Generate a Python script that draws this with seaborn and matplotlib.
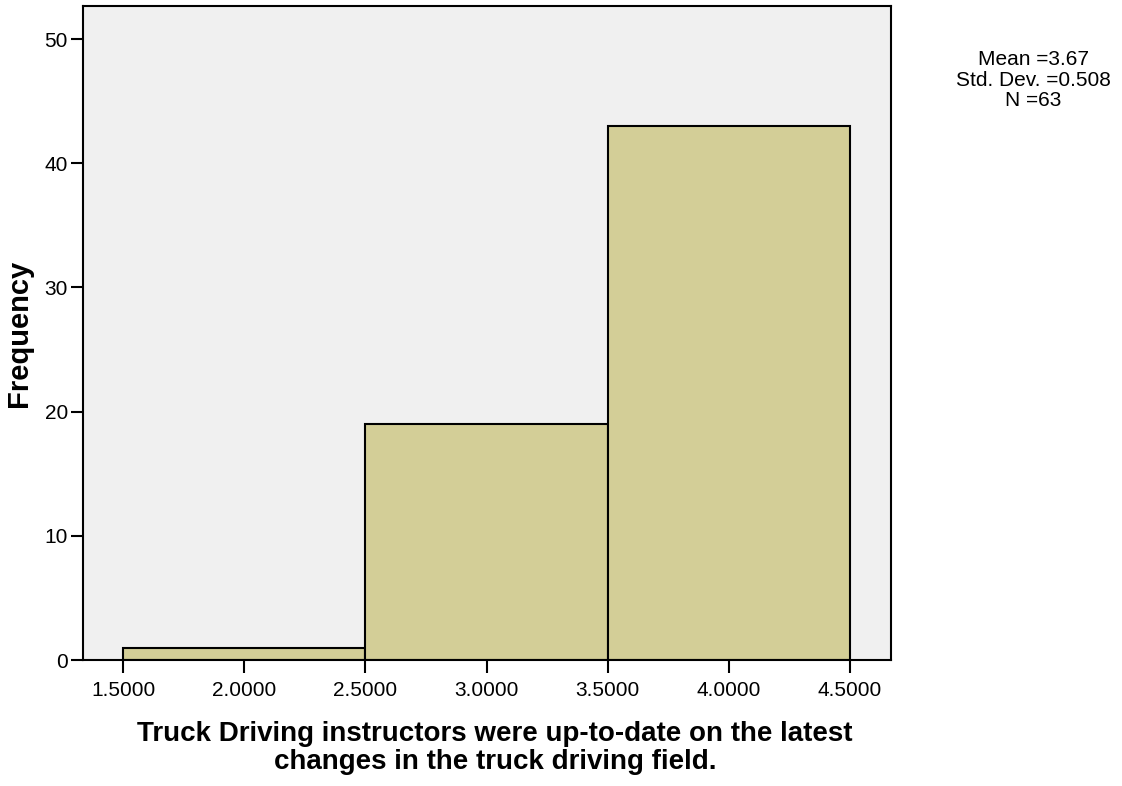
import numpy as np
import pandas as pd
import matplotlib
matplotlib.use("Agg")
import matplotlib.pyplot as plt
import seaborn as sns

# Histogram values
bin_edges = [1.5, 2.5, 3.5, 4.5]
bin_centers = [2.0, 3.0, 4.0]
frequencies = [1, 19, 43]
x_ticks = [1.5, 2.0, 2.5, 3.0, 3.5, 4.0, 4.5]
y_ticks = [0, 10, 20, 30, 40, 50]
stats_lines = ["Mean =3.67", "Std. Dev. =0.508", "N =63"]

x_label = ("Truck Driving instructors were up-to-date on the latest\n"
           "changes in the truck driving field.")

sns.set_style("white")
plt.rcParams['font.family'] = ['Liberation Sans', 'DejaVu Sans']
plt.rcParams['text.color'] = 'black'
plt.rcParams['axes.labelcolor'] = 'black'
plt.rcParams['xtick.color'] = 'black'
plt.rcParams['ytick.color'] = 'black'

df = pd.DataFrame({"value": bin_centers, "count": frequencies})

fig = plt.figure(figsize=(11.22, 7.86), dpi=100)
ax = fig.add_axes([0.074, 0.1603, 0.72, 0.8321])
ax.set_facecolor("#F0F0F0")

sns.histplot(data=df, x="value", weights="count", bins=bin_edges,
             color="#D3CE97", alpha=1.0, edgecolor="black", linewidth=1.5, ax=ax)

ax.set_xlim(1.334, 4.669)
ax.set_ylim(0, 52.66)
ax.set_xticks(x_ticks)
ax.set_xticklabels([f"{t:.4f}" for t in x_ticks], fontsize=15)
ax.set_yticks(y_ticks)
ax.set_yticklabels([str(t) for t in y_ticks], fontsize=15)
ax.tick_params(axis="both", direction="out", length=9, width=1.5,
               bottom=True, left=True, pad=2)
ax.tick_params(axis="x", pad=6)

for spine in ax.spines.values():
    spine.set_visible(True)
    spine.set_color("black")
    spine.set_linewidth(1.5)

ax.set_xlabel("")
ax.set_ylabel("Frequency", fontsize=21, fontweight="bold", labelpad=8)

fig.text(495 / 1122, 1 - 748 / 786, x_label, ha="center", va="center",
         fontsize=20, fontweight="bold", linespacing=1.12)
fig.text(1033 / 1122, 1 - 80 / 786, "\n".join(stats_lines), ha="center", va="center",
         fontsize=15, linespacing=1.1)

fig.savefig("out.png", dpi=100)
